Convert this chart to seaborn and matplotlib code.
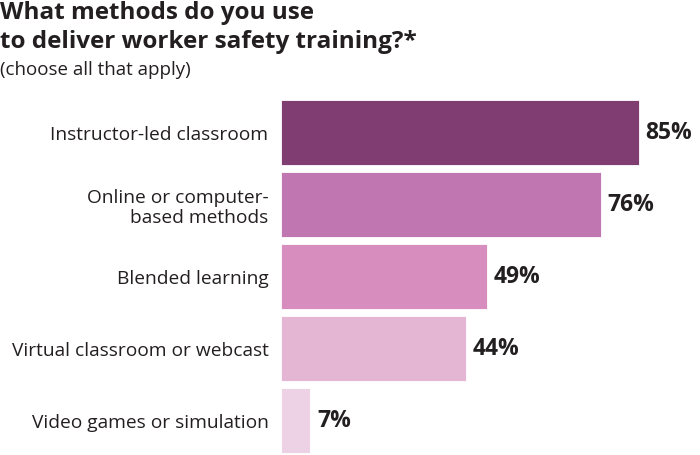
import pandas as pd
import seaborn as sns
import matplotlib.pyplot as plt

methods = ["Instructor-led classroom", "Online or computer-\nbased methods",
           "Blended learning", "Virtual classroom or webcast",
           "Video games or simulation"]
shares = [85, 76, 49, 44, 7]
colors = ["#7F3D72", "#C076B0", "#D78EBE", "#E4B6D4", "#EDD1E5"]

df = pd.DataFrame({"method": methods, "share": shares})

sns.set_theme(style="white")
plt.rcParams["font.family"] = ["Open Sans", "DejaVu Sans"]

fig = plt.figure(figsize=(7, 4.55), dpi=100)
ax = fig.add_axes([281 / 700, 0, 419 / 700, 358.5 / 455])

sns.barplot(data=df, x="share", y="method", hue="method", palette=colors,
            saturation=1, width=0.9, legend=False, ax=ax,
            edgecolor="white", linewidth=0.6)

ax.set_xlim(0, 419 / 4.21)
ax.set_ylim(4.479, -0.5)
ax.set_xlabel("")
ax.set_ylabel("")
ax.set_xticks([])
ax.tick_params(axis="y", length=0, pad=9, labelsize=13.8, labelcolor="#231F20")
for lbl in ax.get_yticklabels():
    lbl.set_horizontalalignment("right")
    lbl.set_linespacing(1.15)
sns.despine(ax=ax, left=True, bottom=True)

for i, v in enumerate(shares):
    ax.text(v + 1.6, i, f"{v}%", va="center", ha="left", fontsize=16.5,
            fontweight="bold", color="#231F20")

fig.text(0, 1 - 1 / 455, "What methods do you use\nto deliver worker safety training?*",
         fontsize=17.5, fontweight="bold", color="#231F20", va="top", ha="left",
         linespacing=1.3)
fig.text(0, 1 - 61 / 455, "(choose all that apply)", fontsize=13.5,
         color="#231F20", va="top", ha="left")

fig.savefig("out.png", dpi=100)
